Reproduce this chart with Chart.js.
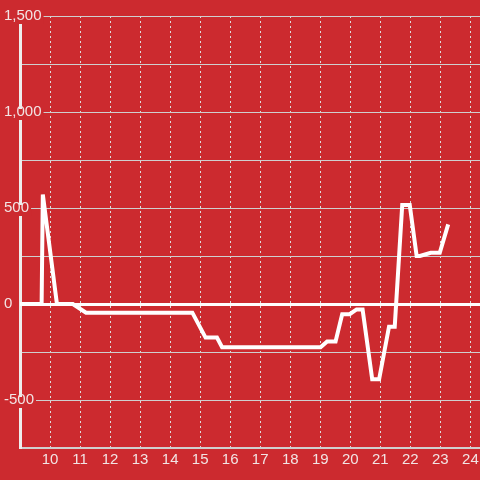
<!DOCTYPE html>
<html>
<head>
<meta charset="utf-8">
<script src="https://cdn.jsdelivr.net/npm/chart.js@4"></script>
<style>
  html, body { margin: 0; padding: 0; background: #cc2a2f; }
  #wrap { width: 480px; height: 480px; }
</style>
</head>
<body>
<div id="wrap"><canvas id="chart" width="480" height="480"></canvas></div>
<script>
/* ---------- DATA ---------- */

const hours = [9.0, 9.72, 9.76, 10.23, 10.76, 11.2, 14.74, 15.18, 15.56, 15.73,
  19.01, 19.23, 19.51, 19.73, 19.98, 20.21, 20.41, 20.73, 20.96, 21.29, 21.48,
  21.73, 21.98, 22.21, 22.32, 22.68, 22.98, 23.26];
const values = [0, 0, 570, 0, 0, -45, -45, -175, -175, -225,
  -225, -195, -195, -53, -53, -28, -28, -392, -392, -118, -118,
  516, 516, 250, 250, 267, 267, 415];

const xTickValues = [10, 11, 12, 13, 14, 15, 16, 17, 18, 19, 20, 21, 22, 23, 24];
const yLabelStep = 500;

/* ---------- STYLE ---------- */

const RED = "#cc2a2f";
const LABEL = "#f2e4e4";

Chart.defaults.font.family = "'Liberation Sans', Arial, sans-serif";
Chart.defaults.font.size = 15;

/* ---------- CHART ---------- */

new Chart(document.getElementById("chart"), {
  type: "line",
  data: {
    datasets: [{
      data: hours.map((h, i) => ({ x: h, y: values[i] })),
      borderColor: "#ffffff",
      borderWidth: 4,
      pointRadius: 0,
      tension: 0,
      fill: false
    }]
  },
  options: {
    responsive: false,
    animation: false,
    layout: { padding: { left: 20, top: 16, right: 0, bottom: 8 } },
    plugins: { legend: { display: false }, tooltip: { enabled: false } },
    scales: {
      x: {
        type: "linear",
        min: 9,
        max: 24.32,
        afterBuildTicks(scale) {
          scale.ticks = xTickValues.map(v => ({ value: v }));
        },
        afterFit(scale) {
          scale.paddingRight = 0;
        },
        ticks: { color: LABEL, padding: 3, maxRotation: 0, autoSkip: false },
        grid: { color: "#dddddd", lineWidth: 1, drawTicks: false },
        // v4: border.dash is applied to the grid lines (dotted verticals)
        border: { display: true, color: "#cfcfcf", width: 2, dash: [2, 3] }
      },
      y: {
        min: -750,
        max: 1500,
        afterFit(scale) {
          scale.width = 0;
        },
        ticks: {
          stepSize: 250,
          mirror: true,
          padding: -16,
          color: LABEL,
          callback: v => (v % yLabelStep === 0 ? v.toLocaleString("en-US") : ""),
          showLabelBackdrop: ctx => ctx.tick && ctx.tick.value % yLabelStep === 0,
          backdropColor: RED,
          backdropPadding: { top: -6, bottom: -1, left: 2, right: 2 }
        },
        grid: {
          drawTicks: false,
          color: ctx => (ctx.tick && ctx.tick.value === 0 ? "#ffffff" : "#cfcfcf"),
          lineWidth: ctx => (ctx.tick && ctx.tick.value === 0 ? 3 : 1)
        },
        border: { display: true, color: "#eeeeee", width: 3 }
      }
    }
  }
});
</script>
</body>
</html>
